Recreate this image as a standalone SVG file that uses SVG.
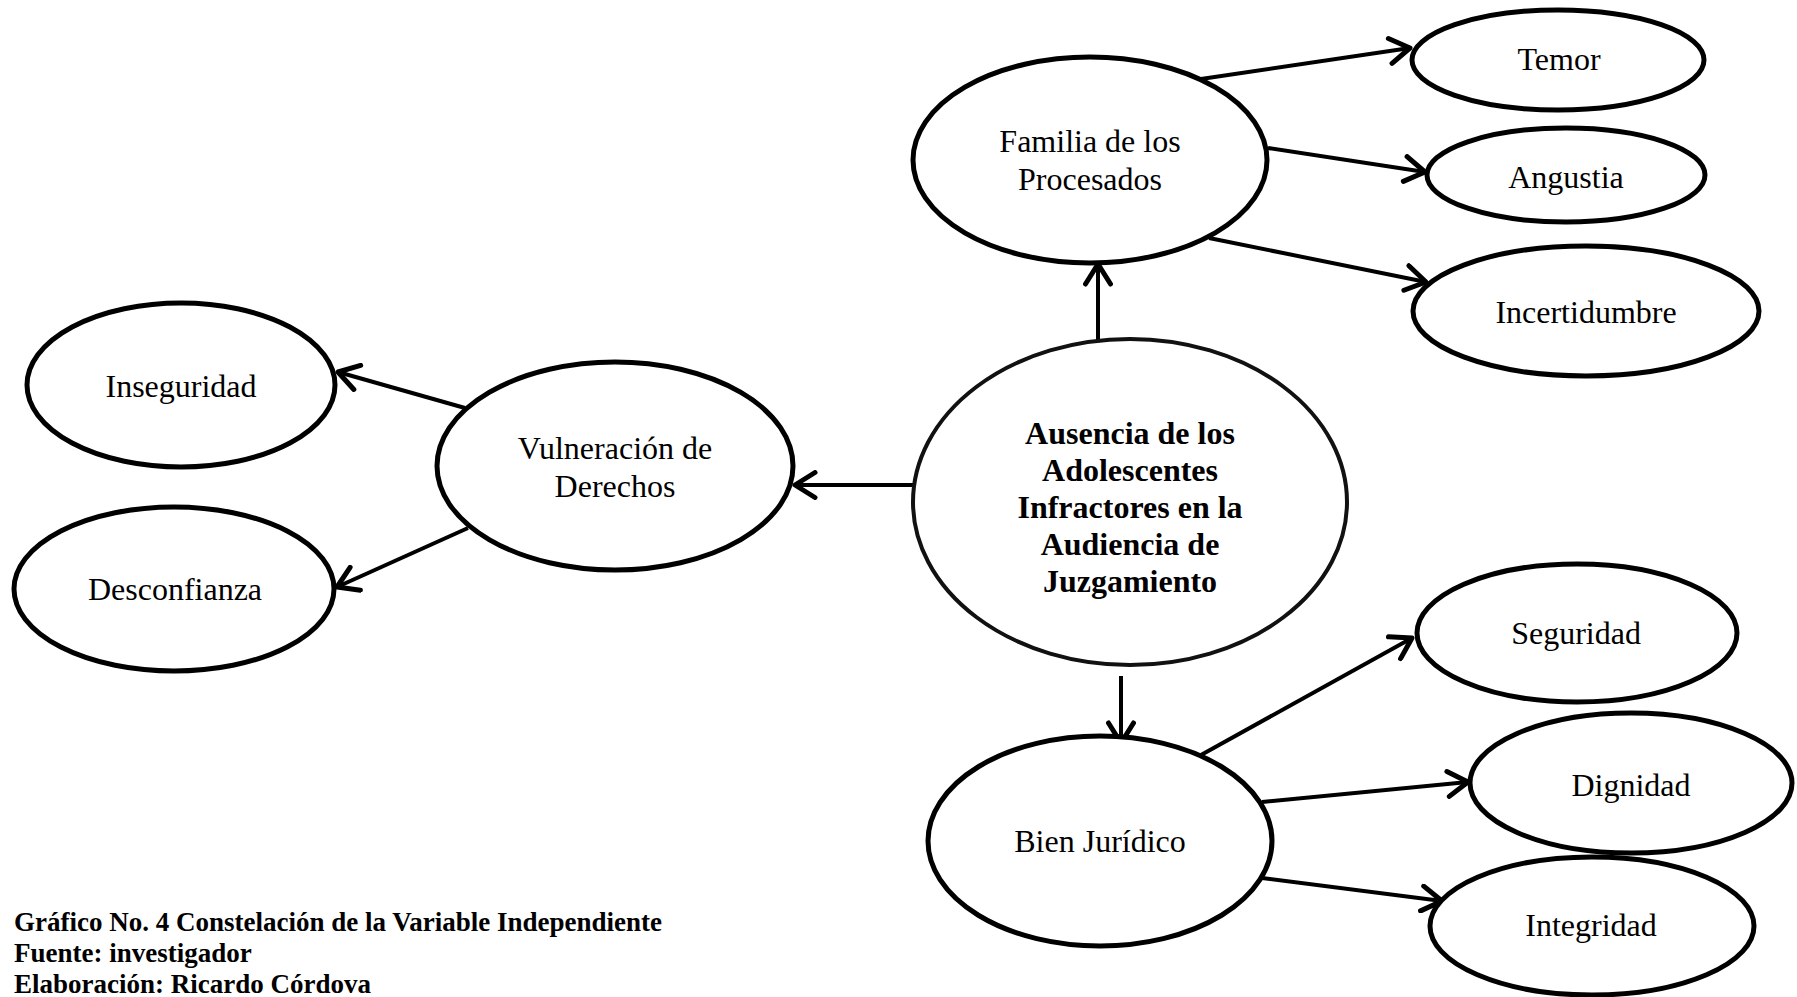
<svg xmlns="http://www.w3.org/2000/svg" width="1797" height="997" viewBox="0 0 1797 997">
<style>
.n{fill:#fff;stroke:#000;stroke-width:5}
.c{fill:#fff;stroke:#111;stroke-width:4}
.t{font-family:"Liberation Serif","Times New Roman",serif;font-size:32px;text-anchor:middle;fill:#000}
.b{font-family:"Liberation Serif","Times New Roman",serif;font-size:32px;font-weight:bold;text-anchor:middle;fill:#000}
.cap{font-family:"Liberation Serif","Times New Roman",serif;font-size:27px;font-weight:bold;fill:#000}
.e{stroke:#000;stroke-width:4;fill:none;marker-end:url(#a)}
</style>
<defs>
<marker id="a" viewBox="0 0 12 12" refX="10" refY="6" markerWidth="7.5" markerHeight="7.5" markerUnits="strokeWidth" orient="auto">
<path d="M2,1 L10,6 L2,11" fill="none" stroke="#000" stroke-width="2" stroke-linecap="round" stroke-linejoin="round"/>
</marker>
</defs>
<rect width="1797" height="997" fill="#fff"/>
<g id="connectors">
<line class="e" x1="1098" y1="340" x2="1098" y2="264"/>
<line class="e" x1="913" y1="485" x2="795" y2="485"/>
<line class="e" x1="1121" y1="676" x2="1121" y2="743"/>
<line class="e" x1="1201" y1="79" x2="1410" y2="48"/>
<line class="e" x1="1268" y1="148" x2="1425" y2="172"/>
<line class="e" x1="1209" y1="238" x2="1426" y2="282"/>
<line class="e" x1="465" y1="408" x2="338" y2="372"/>
<line class="e" x1="468" y1="528" x2="337" y2="587"/>
<line class="e" x1="1201" y1="755" x2="1412" y2="638"/>
<line class="e" x1="1262" y1="802" x2="1468" y2="782"/>
<line class="e" x1="1262" y1="878" x2="1442" y2="901"/>
</g>
<g id="center">
<ellipse class="c" cx="1130" cy="502" rx="217" ry="163"/>
<text class="b" x="1130" y="444">Ausencia de los</text>
<text class="b" x="1130" y="481">Adolescentes</text>
<text class="b" x="1130" y="518">Infractores en la</text>
<text class="b" x="1130" y="555">Audiencia de</text>
<text class="b" x="1130" y="592">Juzgamiento</text>
</g>
<g id="familia">
<ellipse class="n" cx="1090" cy="160" rx="177" ry="103"/>
<text class="t" x="1090" y="152">Familia de los</text>
<text class="t" x="1090" y="190">Procesados</text>
</g>
<g id="temor">
<ellipse class="n" cx="1558" cy="60" rx="146" ry="50"/>
<text class="t" x="1559" y="70">Temor</text>
</g>
<g id="angustia">
<ellipse class="n" cx="1566" cy="175" rx="139" ry="47"/>
<text class="t" x="1566" y="188">Angustia</text>
</g>
<g id="incertidumbre">
<ellipse class="n" cx="1586" cy="311" rx="173" ry="65"/>
<text class="t" x="1586" y="323">Incertidumbre</text>
</g>
<g id="vulneracion">
<ellipse class="n" cx="615" cy="466" rx="178" ry="104"/>
<text class="t" x="615" y="459">Vulneración de</text>
<text class="t" x="615" y="497">Derechos</text>
</g>
<g id="inseguridad">
<ellipse class="n" cx="181" cy="385" rx="154" ry="82"/>
<text class="t" x="181" y="397">Inseguridad</text>
</g>
<g id="desconfianza">
<ellipse class="n" cx="174" cy="589" rx="160" ry="82"/>
<text class="t" x="175" y="600">Desconfianza</text>
</g>
<g id="bien">
<ellipse class="n" cx="1100" cy="841" rx="172" ry="105"/>
<text class="t" x="1100" y="852">Bien Jurídico</text>
</g>
<g id="seguridad">
<ellipse class="n" cx="1577" cy="633" rx="160" ry="69"/>
<text class="t" x="1576" y="644">Seguridad</text>
</g>
<g id="dignidad">
<ellipse class="n" cx="1631" cy="783" rx="161" ry="70"/>
<text class="t" x="1631" y="796">Dignidad</text>
</g>
<g id="integridad">
<ellipse class="n" cx="1592" cy="926" rx="162" ry="69"/>
<text class="t" x="1591" y="936">Integridad</text>
</g>
<g id="caption">
<text class="cap" x="14" y="931">Gráfico No. 4 Constelación de la Variable Independiente</text>
<text class="cap" x="14" y="962">Fuente: investigador</text>
<text class="cap" x="14" y="993">Elaboración: Ricardo Córdova</text>
</g>
</svg>
